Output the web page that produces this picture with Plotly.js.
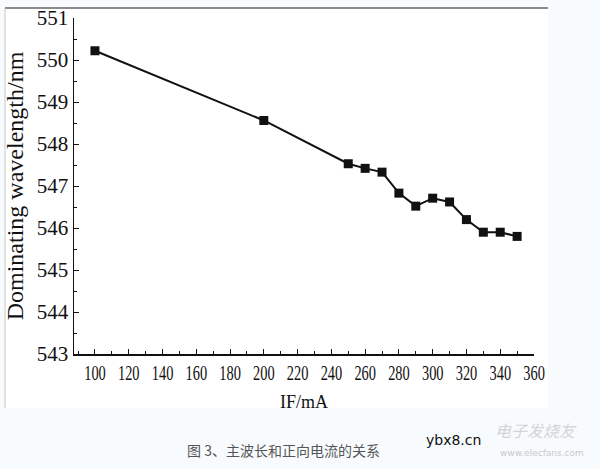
<!DOCTYPE html>
<html>
<head>
<meta charset="utf-8">
<script src="https://cdn.plot.ly/plotly-3.0.1.min.js"></script>
<style>
    html, body { margin: 0; padding: 0; background: #f8fbfd; }
    #chart { width: 600px; height: 469px; }
    #chart .xtick text, #chart .ytick text { font-family: 'Liberation Serif', serif !important; }
    /* the scanned x tick numbers are set in a narrow face */
    #chart g.xtick { transform-box: fill-box; transform-origin: center; transform: scaleX(0.72); }
</style>
</head>
<body>
<div id="chart"></div>
<script>
    // Forward current (mA) and dominating wavelength (nm)
    const currentMA = [100, 200, 250, 260, 270, 280, 290, 300, 310, 320, 330, 340, 350];
    const wavelengthNm = [550.22, 548.56, 547.53, 547.42, 547.33, 546.83, 546.52, 546.71, 546.62, 546.2, 545.9, 545.9, 545.8];

    const xTitle = 'IF/mA';
    const yTitle = 'Dominating wavelength/nm';
    const caption = '图 3、主波长和正向电流的关系';

    // plot area in pixels: left 74, right 534, top 18, bottom 354
    function px(x) { return (x - 74) / 460; }
    function py(y) { return (354 - y) / 336; }

    const serif = 'Liberation Serif';

    const trace = {
        x: currentMA,
        y: wavelengthNm,
        type: 'scatter',
        mode: 'lines+markers',
        line: { color: '#111', width: 2 },
        marker: { symbol: 'square', size: 9, color: '#111' },
        cliponaxis: false,
        hoverinfo: 'x+y'
    };

    const layout = {
        width: 600,
        height: 469,
        margin: { l: 74, r: 66, t: 18, b: 115 },
        paper_bgcolor: '#f8fbfd',
        plot_bgcolor: 'rgba(0,0,0,0)',
        showlegend: false,
        font: { family: serif, color: '#111' },
        xaxis: {
            range: [87.6, 360],
            tick0: 100,
            dtick: 20,
            showgrid: false,
            zeroline: false,
            showline: true,
            linecolor: '#111',
            linewidth: 1.5,
            ticks: 'inside',
            ticklen: 5,
            tickcolor: '#111',
            ticklabelstandoff: 1,
            minor: { dtick: 10, tick0: 100, ticks: 'inside', ticklen: 3, tickcolor: '#111' },
            tickfont: { family: serif, size: 20, color: '#111' },
            title: { text: xTitle, font: { family: serif, size: 18, color: '#111' }, standoff: 12 }
        },
        yaxis: {
            range: [543, 551],
            dtick: 1,
            showgrid: false,
            zeroline: false,
            showline: true,
            linecolor: '#111',
            linewidth: 1.5,
            ticks: 'inside',
            ticklen: 5,
            tickcolor: '#111',
            ticklabelstandoff: 0,
            minor: { dtick: 0.5, ticks: 'inside', ticklen: 3, tickcolor: '#111' },
            tickfont: { family: serif, size: 21, color: '#111' },
            title: { text: yTitle, font: { family: serif, size: 24, color: '#111' }, standoff: 6 }
        },
        shapes: [
            // white picture area with its thin frame
            { type: 'rect', xref: 'paper', yref: 'paper', layer: 'below',
              x0: px(6), x1: px(548), y0: py(408), y1: py(8),
              fillcolor: '#ffffff', line: { width: 0 } },
            { type: 'line', xref: 'paper', yref: 'paper', layer: 'below',
              x0: px(5), x1: px(548), y0: py(8), y1: py(8),
              line: { color: '#666', width: 1.5 } },
            { type: 'line', xref: 'paper', yref: 'paper', layer: 'below',
              x0: px(5), x1: px(5), y0: py(8), y1: py(408),
              line: { color: '#c8c8c8', width: 1 } }
        ],
        annotations: [
            { xref: 'paper', yref: 'paper', x: px(283), y: py(450), xanchor: 'center', yanchor: 'middle', showarrow: false,
              text: caption, font: { family: 'Noto Sans CJK SC', size: 14, color: '#555' } },
            { xref: 'paper', yref: 'paper', x: px(453), y: py(440), xanchor: 'center', yanchor: 'middle', showarrow: false,
              text: 'ybx8.cn', font: { family: 'DejaVu Sans', size: 14, color: '#111' } },
            { xref: 'paper', yref: 'paper', x: px(536), y: py(430), xanchor: 'center', yanchor: 'middle', showarrow: false,
              text: '<i>电子发烧友</i>', font: { family: 'Noto Sans CJK SC', size: 16, color: '#d4d4d4' } },
            { xref: 'paper', yref: 'paper', x: px(542), y: py(453), xanchor: 'center', yanchor: 'middle', showarrow: false,
              text: 'www.elecfans.com', font: { family: 'DejaVu Sans', size: 9, color: '#c8c8c8' } }
        ]
    };

    Plotly.newPlot('chart', [trace], layout, { displayModeBar: false, staticPlot: true });
</script>
</body>
</html>
